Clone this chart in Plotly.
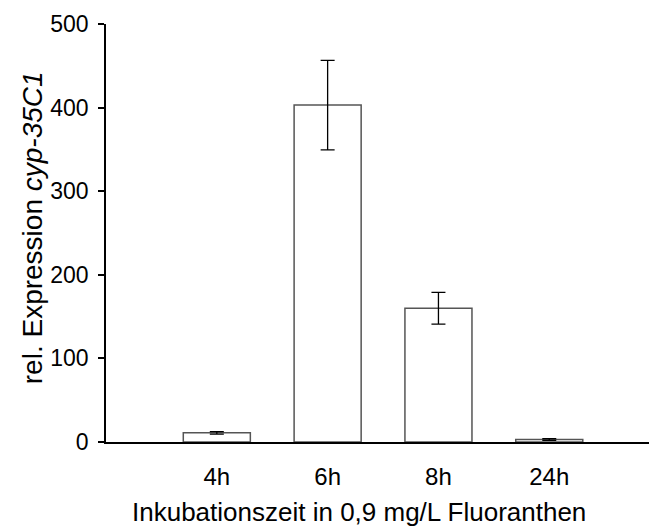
import plotly.graph_objects as go

categories = ["4h", "6h", "8h", "24h"]
values = [11, 403, 160, 3]
errors = [1.5, 53.5, 19, 1]
y_ticks = [0, 100, 200, 300, 400, 500]
x_title = "Inkubationszeit in 0,9 mg/L Fluoranthen"
y_title = "rel. Expression <i>cyp-35C1</i>"

fig = go.Figure()
fig.add_trace(go.Bar(
    x=categories, y=values,
    width=0.605,
    marker=dict(color="white", line=dict(color="#555555", width=1.5)),
    error_y=dict(type="data", array=errors, visible=True, color="black", thickness=1.3, width=7),
))

font_family = "Liberation Sans, Arial, sans-serif"
fig.update_layout(
    width=649, height=527,
    margin=dict(l=106, r=0, t=24, b=85),
    paper_bgcolor="white", plot_bgcolor="white",
    showlegend=False,
    font=dict(family=font_family, color="black", size=23),
    xaxis=dict(
        type="category", range=[-1, 3.9],
        showline=True, linecolor="black", linewidth=1.5,
        ticks="", showgrid=False, zeroline=False,
        tickfont=dict(size=24),
        ticklabelstandoff=12,
    ),
    yaxis=dict(
        range=[0, 500], tickvals=y_ticks,
        showline=True, linecolor="black", linewidth=1.5,
        ticks="outside", ticklen=6, tickcolor="black", tickwidth=1.5,
        showgrid=False, zeroline=False,
        tickfont=dict(size=23),
        ticklabelstandoff=5,
    ),
    annotations=[
        dict(text=x_title, xref="paper", yref="paper", x=0.466, y=-0.167,
             xanchor="center", yanchor="middle", showarrow=False, font=dict(size=26)),
        dict(text=y_title, xref="paper", yref="paper", x=-0.134, y=0.512,
             xanchor="center", yanchor="middle", textangle=-90, showarrow=False, font=dict(size=28)),
    ],
)
fig.write_html("out.html")
